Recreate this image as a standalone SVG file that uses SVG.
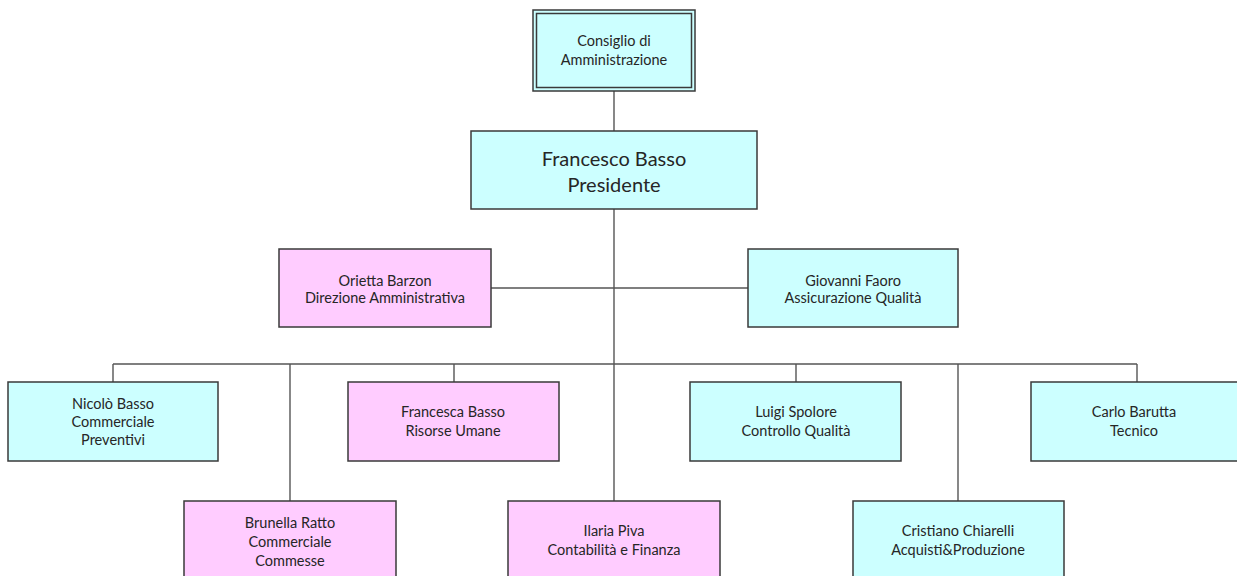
<svg xmlns="http://www.w3.org/2000/svg" width="1237" height="576" viewBox="0 0 1237 576">
<style>
.c{fill:#ccffff;stroke:#3a3a3a;stroke-width:1.5}
.p{fill:#ffccff;stroke:#3a3a3a;stroke-width:1.5}
.n{fill:none;stroke:#3a3a3a;stroke-width:1.5}
text{font-family:Lato,"Open Sans","Liberation Sans",sans-serif;font-size:14.5px;fill:#262626;text-anchor:middle}
.big{font-size:20px}
#links line{stroke:#555;stroke-width:1.4}
</style>
<rect width="1237" height="576" fill="#fff"/>
<g id="links">
<line x1="614" y1="91" x2="614" y2="131"/>
<line x1="614" y1="209" x2="614" y2="501"/>
<line x1="491" y1="288" x2="748" y2="288"/>
<line x1="113" y1="364" x2="1137" y2="364"/>
<line x1="113" y1="364" x2="113" y2="382"/>
<line x1="454" y1="364" x2="454" y2="382"/>
<line x1="796" y1="364" x2="796" y2="382"/>
<line x1="1137" y1="364" x2="1137" y2="382"/>
<line x1="290" y1="364" x2="290" y2="501"/>
<line x1="958" y1="364" x2="958" y2="501"/>
</g>
<g id="consiglio">
<rect class="c" x="533" y="10" width="162" height="81"/>
<rect class="n" x="536.5" y="13.5" width="155" height="74"/>
<text x="614" y="46">Consiglio di</text>
<text x="614" y="65">Amministrazione</text>
</g>
<g id="presidente">
<rect class="c" x="471" y="131" width="286" height="78"/>
<text class="big" x="614" y="166">Francesco Basso</text>
<text class="big" x="614" y="192">Presidente</text>
</g>
<g id="orietta">
<rect class="p" x="279" y="249" width="212" height="78"/>
<text x="385" y="286">Orietta Barzon</text>
<text x="385" y="303">Direzione Amministrativa</text>
</g>
<g id="giovanni">
<rect class="c" x="748" y="249" width="210" height="78"/>
<text x="853" y="286">Giovanni Faoro</text>
<text x="853" y="303">Assicurazione Qualità</text>
</g>
<g id="nicolo">
<rect class="c" x="8" y="382" width="210" height="79"/>
<text x="113" y="409">Nicolò Basso</text>
<text x="113" y="427">Commerciale</text>
<text x="113" y="445">Preventivi</text>
</g>
<g id="francesca">
<rect class="p" x="348" y="382" width="211" height="79"/>
<text x="453" y="417">Francesca Basso</text>
<text x="453" y="436">Risorse Umane</text>
</g>
<g id="luigi">
<rect class="c" x="690" y="382" width="211" height="79"/>
<text x="796" y="417">Luigi Spolore</text>
<text x="796" y="436">Controllo Qualità</text>
</g>
<g id="carlo">
<rect class="c" x="1031" y="382" width="210" height="79"/>
<text x="1134" y="417">Carlo Barutta</text>
<text x="1134" y="436">Tecnico</text>
</g>
<g id="brunella">
<rect class="p" x="184" y="501" width="212" height="80"/>
<text x="290" y="528">Brunella Ratto</text>
<text x="290" y="547">Commerciale</text>
<text x="290" y="566">Commesse</text>
</g>
<g id="ilaria">
<rect class="p" x="508" y="501" width="212" height="80"/>
<text x="614" y="536">Ilaria Piva</text>
<text x="614" y="555">Contabilità e Finanza</text>
</g>
<g id="cristiano">
<rect class="c" x="853" y="501" width="211" height="80"/>
<text x="958" y="536">Cristiano Chiarelli</text>
<text x="958" y="555">Acquisti&amp;Produzione</text>
</g>
</svg>
